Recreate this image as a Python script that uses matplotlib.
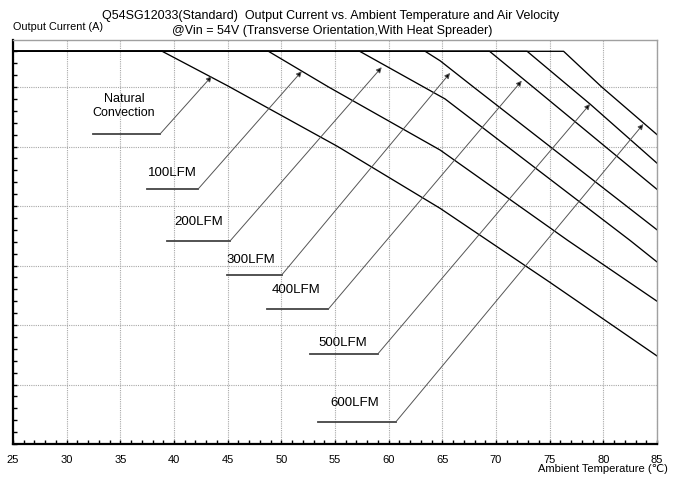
import matplotlib
matplotlib.use("Agg")
import matplotlib.pyplot as plt
from matplotlib.ticker import MultipleLocator

plt.rcParams['font.family'] = ['Liberation Sans', 'DejaVu Sans']

# ---- data ----
series_names = ["Natural\nConvection", "100LFM", "200LFM", "300LFM", "400LFM", "500LFM", "600LFM"]

nat_T = [25, 38.9, 45.0, 55.25, 64.8, 75.0, 85.0]
nat_I = [33, 33, 30.1, 25.0, 19.8, 13.6, 7.4]

lfm100_T = [25, 48.8, 54.4, 64.8, 76.7, 85.0]
lfm100_I = [33, 33, 30.0, 24.7, 17.1, 12.0]

lfm200_T = [25, 57.3, 65.25, 82.5, 85.0]
lfm200_I = [33, 33, 29.0, 17.1, 15.3]

lfm300_T = [25, 63.4, 64.8, 67.9, 85.0]
lfm300_I = [33, 33, 32.2, 30.0, 18.0]

lfm400_T = [25, 69.4, 73.45, 85.0]
lfm400_I = [33, 33, 30.0, 21.4]

lfm500_T = [25, 72.9, 78.76, 85.0]
lfm500_I = [33, 33, 28.57, 23.6]

lfm600_T = [25, 76.3, 79.85, 85.0]
lfm600_I = [33, 33, 30.0, 26.0]

curves_T = [nat_T, lfm100_T, lfm200_T, lfm300_T, lfm400_T, lfm500_T, lfm600_T]
curves_I = [nat_I, lfm100_I, lfm200_I, lfm300_I, lfm400_I, lfm500_I, lfm600_I]

x_ticks = [25, 30, 35, 40, 45, 50, 55, 60, 65, 70, 75, 80, 85]

# annotation geometry (data coords): label centre, underline span, arrow tip
label_xy = [(35.35, 28.4), (39.86, 22.77), (42.27, 18.66), (47.2, 15.46),
            (51.4, 12.94), (55.7, 8.5), (56.85, 3.47)]
label_size = [9, 9.5, 9.5, 9.5, 9.5, 9.5, 9.5]
underline_x = [(32.48, 38.70), (37.46, 42.27), (39.32, 45.22), (44.91, 50.03),
               (48.64, 54.38), (52.67, 58.98), (53.39, 60.68)]
underline_y = [26.05, 21.45, 17.06, 14.2, 11.34, 7.56, 1.87]
arrow_tip = [(43.51, 30.90), (51.90, 31.32), (59.35, 31.66), (65.72, 31.18),
             (72.40, 30.53), (78.76, 28.57), (83.73, 26.89)]

# ---- figure ----
fig = plt.figure(figsize=(6.75, 4.78), dpi=100)
ax = fig.add_axes([13/675, 34/478, 644/675, 404/478])
ax.set_xlim(25, 85)
ax.set_ylim(0, 33.95)

ax.xaxis.set_minor_locator(MultipleLocator(1))
ax.yaxis.set_major_locator(MultipleLocator(5))
ax.yaxis.set_minor_locator(MultipleLocator(1))
ax.set_xticks(x_ticks)
ax.grid(True, which='major', color='#a8a8a8', linestyle=(0, (1, 1)), linewidth=0.8)
ax.tick_params(which='both', direction='in', length=3, width=1, color='black',
               top=False, right=False)
ax.tick_params(axis='x', labelsize=8, pad=8)
ax.tick_params(axis='y', labelleft=False)

for s in ['left', 'bottom']:
    ax.spines[s].set_color('black')
    ax.spines[s].set_linewidth(1.6)
for s in ['top', 'right']:
    ax.spines[s].set_color('#a0a0a0')
    ax.spines[s].set_linewidth(1.0)

for T, I in zip(curves_T, curves_I):
    ax.plot(T, I, color='black', linewidth=0.95, solid_joinstyle='round')

for name, (lx, ly), fs, (ux0, ux1), uy, tip in zip(series_names, label_xy, label_size,
                                                   underline_x, underline_y, arrow_tip):
    ax.text(lx, ly, name, ha='center', va='center', fontsize=fs, linespacing=1.2)
    ax.plot([ux0, ux1], [uy, uy], color='#444444', linewidth=1.3)
    ax.annotate('', xy=tip, xytext=(ux1, uy),
                arrowprops=dict(arrowstyle='-|>', ec='#555555', fc='black', lw=0.7,
                                mutation_scale=8, shrinkA=0, shrinkB=0))

fig.text(331/675, 1 - 16/478,
         "Q54SG12033(Standard)  Output Current vs. Ambient Temperature and Air Velocity",
         ha='center', va='center', fontsize=9)
fig.text(332/675, 1 - 31/478,
         "@Vin = 54V (Transverse Orientation,With Heat Spreader)",
         ha='center', va='center', fontsize=9)
fig.text(13/675, 1 - 27/478, "Output Current (A)", ha='left', va='center', fontsize=7.8)
fig.text(668/675, 1 - 469/478, "Ambient Temperature (\u2103)", ha='right', va='center',
         fontsize=8)

fig.savefig("out.png", dpi=100)
